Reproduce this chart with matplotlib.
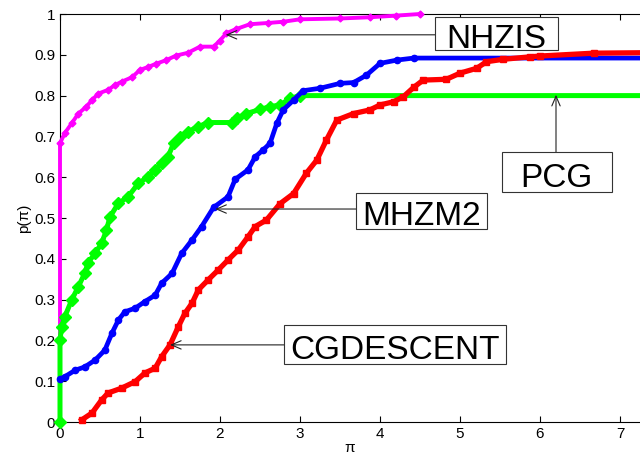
import matplotlib
matplotlib.use("Agg")
import matplotlib.pyplot as plt
from matplotlib.patches import Rectangle

# NHZIS (magenta)
nhzis_x = [0.0, 0.0, 0.0, 0.06, 0.146, 0.23, 0.33, 0.40, 0.48, 0.60, 0.69, 0.77, 0.9, 1.0, 1.1, 1.2, 1.33, 1.45, 1.6, 1.75, 1.92, 2.0, 2.08, 2.2, 2.375, 2.6, 2.79, 3.0, 3.5, 3.87, 4.2, 4.5]
nhzis_y = [0.0, 0.25, 0.683, 0.708, 0.732, 0.756, 0.773, 0.789, 0.805, 0.814, 0.826, 0.834, 0.845, 0.863, 0.87, 0.878, 0.887, 0.898, 0.905, 0.92, 0.92, 0.935, 0.953, 0.963, 0.975, 0.978, 0.981, 0.987, 0.989, 0.992, 0.996, 1.0]

# PCG (green)
pcg_x = [0.0, 0.0, 0.02, 0.06, 0.146, 0.23, 0.31, 0.35, 0.44, 0.52, 0.58, 0.625, 0.73, 0.85, 0.98, 1.10, 1.19, 1.27, 1.35, 1.42, 1.5, 1.6, 1.73, 1.85, 2.15, 2.21, 2.33, 2.5, 2.625, 2.75, 2.875, 3.0, 7.25]
pcg_y = [0.0, 0.20, 0.234, 0.258, 0.299, 0.332, 0.365, 0.39, 0.414, 0.438, 0.47, 0.503, 0.536, 0.552, 0.585, 0.601, 0.618, 0.634, 0.650, 0.683, 0.699, 0.712, 0.724, 0.734, 0.734, 0.744, 0.756, 0.766, 0.773, 0.777, 0.793, 0.80, 0.80]

# MHZM2 (blue)
mhzm2_x = [0.0, 0.06, 0.19, 0.31, 0.44, 0.56, 0.65, 0.73, 0.81, 0.94, 1.06, 1.19, 1.27, 1.40, 1.52, 1.65, 1.77, 1.92, 2.10, 2.19, 2.35, 2.44, 2.54, 2.625, 2.71, 2.79, 2.92, 3.04, 3.25, 3.5, 3.67, 3.83, 4.0, 4.21, 4.42, 7.25]
mhzm2_y = [0.105, 0.111, 0.127, 0.135, 0.152, 0.176, 0.218, 0.25, 0.27, 0.279, 0.295, 0.311, 0.34, 0.364, 0.413, 0.446, 0.479, 0.526, 0.552, 0.595, 0.618, 0.650, 0.667, 0.683, 0.732, 0.765, 0.789, 0.812, 0.818, 0.830, 0.832, 0.850, 0.879, 0.887, 0.892, 0.892]

# CGDESCENT (red)
cg_x = [0.27, 0.40, 0.52, 0.60, 0.77, 0.94, 1.06, 1.19, 1.27, 1.375, 1.48, 1.56, 1.65, 1.73, 1.85, 1.98, 2.10, 2.23, 2.35, 2.44, 2.58, 2.75, 2.92, 3.08, 3.21, 3.33, 3.46, 3.67, 3.875, 4.0, 4.17, 4.29, 4.42, 4.54, 4.83, 5.0, 5.21, 5.33, 5.54, 5.875, 6.0, 6.67, 7.25]
cg_y = [0.005, 0.022, 0.054, 0.071, 0.083, 0.099, 0.12, 0.132, 0.16, 0.189, 0.234, 0.266, 0.291, 0.324, 0.348, 0.373, 0.397, 0.422, 0.454, 0.479, 0.495, 0.535, 0.56, 0.61, 0.642, 0.691, 0.740, 0.756, 0.765, 0.777, 0.785, 0.797, 0.82, 0.838, 0.84, 0.855, 0.867, 0.883, 0.889, 0.895, 0.897, 0.904, 0.905]

labels = ["NHZIS", "PCG", "MHZM2", "CGDESCENT"]
label_pos = [(5.456, 0.945), (6.21, 0.605), (4.52, 0.512), (4.19, 0.184)]
box_x0 = [4.6875, 5.525, 3.70, 2.80]
box_x1 = [6.225, 6.90, 5.34, 5.575]
box_y0 = [0.912, 0.564, 0.472, 0.142]
box_y1 = [0.993, 0.662, 0.562, 0.238]
arrow_start = [(4.6875, 0.949), (6.20, 0.662), (3.70, 0.522), (2.80, 0.189)]
arrow_tips = [(2.07, 0.949), (6.20, 0.802), (1.94, 0.522), (1.375, 0.189)]

xticks = list(range(0, 8))
yticks = [i / 10 for i in range(11)]
ytick_labels = ["0", "0.1", "0.2", "0.3", "0.4", "0.5", "0.6", "0.7", "0.8", "0.9", "1"]

plt.rcParams['font.family'] = ['Liberation Sans', 'DejaVu Sans']

fig = plt.figure(figsize=(6.4, 4.55), dpi=100)
ax = fig.add_axes([60 / 640, 33 / 455, 580 / 640, 408 / 455])

ax.plot(nhzis_x, nhzis_y, color='#ff00ff', lw=2.8, marker='D', ms=3.5, markevery=slice(2, None), clip_on=False, zorder=3)
ax.plot(pcg_x, pcg_y, color='#00ff00', lw=3.6, marker='D', ms=6, markevery=slice(0, -1), clip_on=False, zorder=3)
ax.plot(mhzm2_x, mhzm2_y, color='#0000ff', lw=3.4, marker='o', ms=4.5, markevery=slice(0, -1), clip_on=False, zorder=3)
ax.plot(cg_x, cg_y, color='#ff0000', lw=3.8, marker='s', ms=5, markevery=slice(0, -1), clip_on=False, zorder=3)

ax.set_xlim(0, 7.25)
ax.set_ylim(0, 1)
ax.set_xticks(xticks)
ax.set_yticks(yticks)
ax.set_yticklabels(ytick_labels)
ax.tick_params(direction='in', labelsize=11, top=True, right=False, length=4)
ax.spines['right'].set_visible(False)
ax.set_xlabel('π', fontsize=11, labelpad=0)
ax.set_ylabel('p(π)', fontsize=11, labelpad=2)

for lab, pos, x0, x1, y0, y1, st, tip in zip(labels, label_pos, box_x0, box_x1, box_y0, box_y1, arrow_start, arrow_tips):
    ax.add_patch(Rectangle((x0, y0), x1 - x0, y1 - y0, fc='white', ec='#333333', lw=0.8, zorder=5, clip_on=False))
    ax.text(pos[0], pos[1], lab, fontsize=24, ha='center', va='center_baseline', zorder=6)
    ax.annotate('', xy=tip, xytext=st, zorder=4,
                arrowprops=dict(arrowstyle='->,head_length=0.7,head_width=0.3', color='#222222', lw=0.8,
                                shrinkA=0, shrinkB=0))

fig.savefig('out.png', dpi=100)
